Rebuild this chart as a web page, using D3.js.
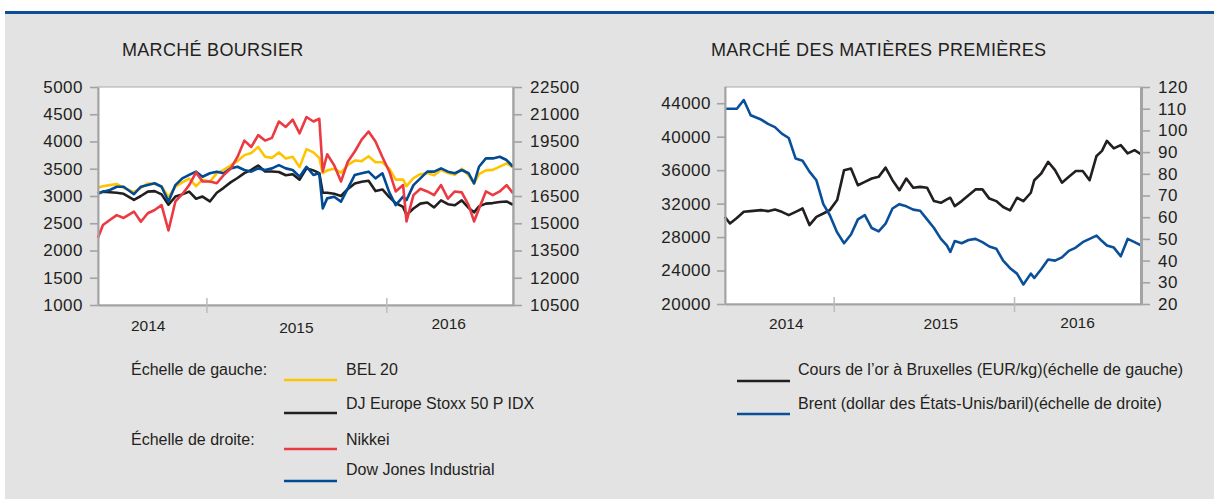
<!DOCTYPE html>
<html><head><meta charset="utf-8">
<script src="https://cdn.jsdelivr.net/npm/d3@7"></script>
<style>
body{margin:0;background:#fff}
svg{display:block}
text{font-family:"Liberation Sans",Arial,Helvetica,sans-serif;fill:#231f20}
</style>
</head><body>
<svg id="c" width="1219" height="499"></svg>
<script>
// ---------- DATA ----------
const dates = [
"2014-05-26","2014-06-05","2014-06-19","2014-07-03","2014-07-17","2014-08-07","2014-08-21","2014-09-04","2014-09-18","2014-10-02",
"2014-10-16","2014-10-30","2014-11-13","2014-11-27","2014-12-11","2014-12-24","2015-01-08","2015-01-22","2015-02-05","2015-02-19",
"2015-03-05","2015-03-19","2015-04-02","2015-04-16","2015-04-30","2015-05-14","2015-05-28","2015-06-11","2015-06-25","2015-07-09",
"2015-07-23","2015-08-06","2015-08-18","2015-08-25","2015-09-03","2015-09-17","2015-10-01","2015-10-15","2015-10-29","2015-11-12",
"2015-11-26","2015-12-10","2015-12-24","2016-01-07","2016-01-20","2016-02-04","2016-02-11","2016-02-25","2016-03-10","2016-03-24",
"2016-04-07","2016-04-21","2016-05-05","2016-05-19","2016-06-02","2016-06-16","2016-06-27","2016-07-07","2016-07-21","2016-08-04",
"2016-08-18","2016-09-01","2016-09-14"];

const bel20 = [
3150,3180,3200,3220,3150,3070,3150,3230,3220,3180,
2980,3170,3250,3320,3180,3300,3260,3420,3480,3560,
3640,3750,3790,3900,3720,3700,3800,3690,3720,3530,
3860,3800,3700,3420,3470,3500,3430,3570,3650,3640,
3730,3620,3620,3500,3300,3300,3180,3330,3400,3420,
3380,3480,3420,3390,3500,3380,3230,3400,3470,3480,
3540,3600,3530];

const stoxx50 = [
3040,3080,3070,3060,3040,2930,3000,3080,3090,3030,
2840,2990,3030,3080,2950,2990,2900,3060,3150,3250,
3330,3420,3480,3560,3450,3450,3440,3380,3400,3300,
3510,3470,3420,3060,3060,3040,3000,3130,3230,3260,
3280,3090,3120,2980,2870,2800,2650,2770,2860,2880,
2790,2920,2850,2830,2920,2780,2700,2810,2860,2870,
2890,2900,2840];

const nikkei = [
14200,14900,15180,15450,15290,15640,15080,15550,15730,16000,
14600,16200,16600,17100,17800,17300,17300,17200,17650,18000,
18650,19550,19200,19850,19550,19700,20600,20300,20700,19950,
20850,20600,20750,17850,18800,18200,17300,18400,18950,19600,
20050,19500,18650,17850,16750,17100,15100,16550,16900,16750,
16550,17100,16350,16750,16700,16000,15100,15800,16750,16550,
16750,17100,16650];

const dowJones = [
16650,16740,16830,17010,17010,16600,17010,17100,17200,17010,
16200,17100,17470,17660,17840,17560,17750,17840,17750,18020,
18110,17930,17840,18020,17930,18020,18200,18020,17930,17560,
18110,17660,17750,15820,16370,16460,16190,16920,17660,17750,
17840,17470,17750,16700,16000,16460,16280,17100,17470,17840,
17840,18020,17840,17750,17930,17750,17200,18110,18570,18570,
18660,18480,18110];

const goldBrussels = [
30400,29630,30270,31020,31100,31220,31100,31300,31020,30630,
31020,31420,29430,30420,30820,31220,32420,36000,36200,34200,
34600,35000,35200,36300,34800,33600,35000,33900,34000,33900,
32300,32100,32500,32700,31700,32300,33000,33700,33700,32600,
32300,31600,31200,32700,32300,33300,34800,35600,37000,36000,
34500,35200,35900,35900,34800,37700,38300,39500,38600,39000,
38000,38400,37900];

const brent = [
110,110,110,114,107,105,103,101.5,98.5,96.5,
87,86,81,77,66,61,53,48,52,59,
61,55,53.5,57,64,66,65,63.5,63,59,
55,50,47,44,49,48,49.5,50,48.5,46.5,
45.5,40,36.5,34,29,34,32,36,40.5,40,
41.5,44.5,46,48.5,50,51.5,49,47,46,42,
50,48.5,47];

const stockLeftTicks  = [1000,1500,2000,2500,3000,3500,4000,4500,5000];
const stockRightTicks = [10500,12000,13500,15000,16500,18000,19500,21000,22500];
const commLeftTicks   = [20000,24000,28000,32000,36000,40000,44000];
const commRightTicks  = [20,30,40,50,60,70,80,90,100,110,120];
const yearLabels = ["2014","2015","2016"];
const yearBreaks = ["2015-01-01","2016-01-01"];

const stockSeries = [
  {name:"BEL 20", values:bel20, axis:"left", color:"#ffc400"},
  {name:"DJ Europe Stoxx 50 P IDX", values:stoxx50, axis:"left", color:"#231f20"},
  {name:"Dow Jones Industrial", values:dowJones, axis:"right", color:"#004b93"},
  {name:"Nikkei", values:nikkei, axis:"right", color:"#ec3a42"}
];
const commSeries = [
  {name:"Cours de l’or à Bruxelles (EUR/kg)(échelle de gauche)", values:goldBrussels, axis:"left", color:"#231f20"},
  {name:"Brent (dollar des États-Unis/baril)(échelle de droite)", values:brent, axis:"right", color:"#0a4f99"}
];

// ---------- DRAW ----------
const parse = d3.timeParse("%Y-%m-%d");
const pDates = dates.map(parse);
const svg = d3.select("#c");

svg.append("rect").attr("x",5).attr("y",14).attr("width",1209).attr("height",485).attr("fill","#e3e3e3");
svg.append("line").attr("x1",5).attr("x2",1214).attr("y1",12.5).attr("y2",12.5)
  .attr("stroke","#0d4f97").attr("stroke-width",3);

function drawPanel(cfg){
  const g = svg.append("g");
  const x = d3.scaleTime().domain(d3.extent(pDates)).range([cfg.left, cfg.right]);
  const yL = d3.scaleLinear().domain(cfg.leftDomain).range([cfg.bottom, cfg.topL]);
  const yR = d3.scaleLinear().domain(cfg.rightDomain).range([cfg.bottom, cfg.top]);

  g.append("rect").attr("x",cfg.left).attr("y",cfg.top)
    .attr("width",cfg.right-cfg.left).attr("height",cfg.bottom-cfg.top)
    .attr("fill","#fff").attr("stroke","#b5b5b5").attr("stroke-width",1.2);

  g.append("text").attr("x",cfg.titleX).attr("y",56).attr("font-size","18px")
    .attr("letter-spacing","0.3px").text(cfg.title);

  cfg.series.forEach(s=>{
    const y = s.axis==="left" ? yL : yR;
    const line = d3.line().x((d,i)=>x(pDates[i])).y(d=>y(d)).curve(d3.curveLinear);
    g.append("path").datum(s.values).attr("d",line).attr("fill","none")
      .attr("stroke",s.color).attr("stroke-width",2.6).attr("stroke-linejoin","round");
  });

  const fmt = d3.format("d");
  const al = g.append("g").attr("transform",`translate(${cfg.left},0)`)
    .call(d3.axisLeft(yL).tickValues(cfg.leftTicks).tickSize(8).tickSizeOuter(0).tickPadding(cfg.padL).tickFormat(fmt));
  const ar = g.append("g").attr("transform",`translate(${cfg.right},0)`)
    .call(d3.axisRight(yR).tickValues(cfg.rightTicks).tickSize(9).tickSizeOuter(0).tickPadding(cfg.padR).tickFormat(fmt));
  [al,ar].forEach(a=>{
    a.select(".domain").attr("stroke","#a3a3a3").attr("stroke-width",cfg.axisW);
    a.selectAll(".tick line").attr("stroke","#a3a3a3").attr("stroke-width",1.6);
    a.selectAll(".tick text").attr("font-size","17px").attr("letter-spacing","0.5px")
      .attr("font-family","'Liberation Sans',Arial,sans-serif").attr("fill","#231f20");
  });
  ar.select(".domain").attr("stroke-width",cfg.axisWR);

  const ab = g.append("g").attr("transform",`translate(0,${cfg.bottom})`)
    .call(d3.axisBottom(x).tickValues(yearBreaks.map(parse)).tickSize(8).tickSizeOuter(0).tickFormat(""));
  ab.select(".domain").attr("stroke","#a3a3a3").attr("stroke-width",2);
  ab.selectAll(".tick line").attr("y1",-7).attr("y2",8).attr("stroke","#bcbcbc").attr("stroke-width",1.5);

  const edges = [x.domain()[0], ...yearBreaks.map(parse), x.domain()[1]];
  yearLabels.forEach((lab,i)=>{
    const cx = (x(edges[i])+x(edges[i+1]))/2 + cfg.yearDx[i];
    g.append("text").attr("x",cx).attr("y",cfg.bottom+cfg.yearDy[i]).attr("text-anchor","middle")
      .attr("font-size","15.5px").text(lab);
  });
  return {x,yL,yR};
}

drawPanel({
  title:"MARCHÉ BOURSIER", titleX:122,
  left:98, right:513, top:87, topL:87, bottom:305,
  leftDomain:[1000,5000], rightDomain:[10500,22500],
  leftTicks:stockLeftTicks, rightTicks:stockRightTicks,
  padL:7, padR:8, axisW:2, axisWR:2.2,
  yearDx:[-4,0,-1], yearDy:[26,28,24],
  series:stockSeries
});
drawPanel({
  title:"MARCHÉ DES MATIÈRES PREMIÈRES", titleX:711,
  left:725, right:1141, top:87, topL:86.5, bottom:304,
  leftDomain:[20000,46000], rightDomain:[20,120],
  leftTicks:commLeftTicks, rightTicks:commRightTicks,
  padL:6, padR:8, axisW:2, axisWR:3,
  yearDx:[7,17,0], yearDy:[25,25,24],
  series:commSeries
});

// ---------- LEGENDS ----------
const lg = svg.append("g");
function legLine(x1,x2,y,color){
  lg.append("line").attr("x1",x1).attr("x2",x2).attr("y1",y).attr("y2",y)
    .attr("stroke",color).attr("stroke-width",2.6);
}
function legText(x,y,t){ lg.append("text").attr("x",x).attr("y",y).attr("font-size","16px").text(t); }

legText(131,375,"Échelle de gauche:");
legText(131,444.5,"Échelle de droite:");
const leftLegend = [
  {s:stockSeries[0], ty:375, ly:380},
  {s:stockSeries[1], ty:408.5, ly:413},
  {s:stockSeries[3], ty:444.5, ly:449},
  {s:stockSeries[2], ty:475, ly:481}
];
leftLegend.forEach(d=>{ legLine(284,337,d.ly,d.s.color); legText(346,d.ty,d.s.name); });

const rightLegend = [
  {s:commSeries[0], ty:375, ly:381},
  {s:commSeries[1], ty:409, ly:414}
];
rightLegend.forEach(d=>{ legLine(737,790,d.ly,d.s.color); legText(798,d.ty,d.s.name); });
</script>
</body></html>
